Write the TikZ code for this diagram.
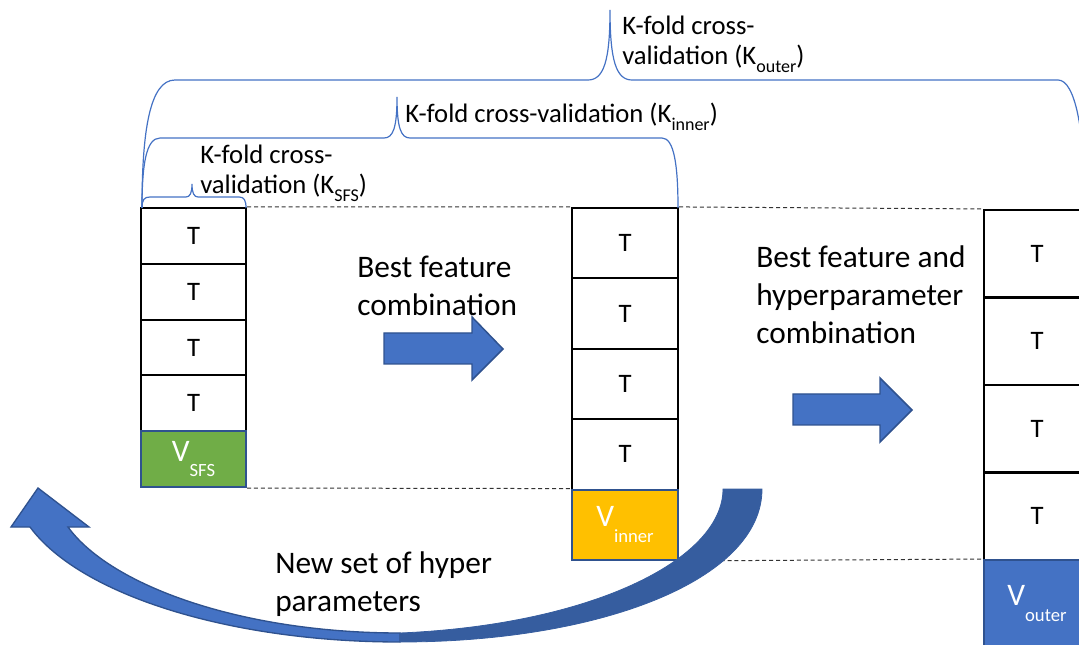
\documentclass[tikz,border=0pt]{standalone}
\usepackage{fontspec}
\setmainfont{Carlito}
\definecolor{bblue}{HTML}{4472C4}
\definecolor{bedge}{HTML}{2F528F}
\definecolor{bdark}{HTML}{365D9F}
\definecolor{vgreen}{HTML}{70AD47}
\definecolor{vyellow}{HTML}{FFC000}
\newcommand\ksub[1]{\raisebox{-0.3em}{\fontsize{13.5}{14}\selectfont #1}}
\newcommand\vsub[1]{\raisebox{-0.5em}{\fontsize{14}{15}\selectfont #1}}
\tikzset{
  lbl/.style={font=\fontsize{20}{22.5}\selectfont, align=left, inner sep=0pt},
  big/.style={font=\fontsize{23.5}{28.5}\selectfont, align=left, inner sep=0pt},
  tbox/.style={draw=black, line width=1.6pt, fill=white, inner sep=0pt, font=\fontsize{20}{22}\selectfont},
  vbox/.style={draw=bedge, line width=1.5pt, inner sep=0pt, text=white, font=\fontsize{23.5}{24}\selectfont},
  lstack/.style={minimum width=78.75pt, minimum height=41.85pt},
  mstack/.style={minimum width=79.5pt, minimum height=52.8pt},
  rstack/.style={minimum width=79.5pt, minimum height=65.6pt},
  guide/.style={draw=black!80, line width=0.75pt, dash pattern=on 3pt off 2.2pt},
  brace/.style={draw=bblue, line width=0.9pt},
  blockarrow/.style={fill=bblue, draw=bedge, line width=1.1pt, line join=miter},
}
\begin{document}
\begin{tikzpicture}[x=0.75pt, y=-0.75pt]
\useasboundingbox (0,0) rectangle (1079,645);
\clip (0,0) rectangle (1079,645);

% left stack
\node[tbox, lstack] (L1) at (193.5,235.9) {T};
\node[tbox, lstack] (L2) at (193.5,291.7) {T};
\node[tbox, lstack] (L3) at (193.5,347.5) {T};
\node[tbox, lstack] (L4) at (193.5,403.3) {T};
\node[vbox, lstack, fill=vgreen] (LV) at (193.5,459.1) {V\vsub{SFS}};

% middle stack
\node[tbox, mstack] (M1) at (625,243.2) {T};
\node[tbox, mstack] (M2) at (625,313.6) {T};
\node[tbox, mstack] (M3) at (625,384) {T};
\node[tbox, mstack] (M4) at (625,454.4) {T};
\node[vbox, mstack, fill=vyellow] (MV) at (625,524.8) {V\vsub{inner}};

% right stack
\node[tbox, rstack] (R1) at (1037,253.75) {T};
\node[tbox, rstack] (R2) at (1037,341.25) {T};
\node[tbox, rstack] (R3) at (1037,428.75) {T};
\node[tbox, rstack] (R4) at (1037,516.25) {T};
\node[vbox, rstack, fill=bblue] (RV) at (1037,603.75) {V\vsub{outer}};

% dashed guides
\draw[guide] (L1.north east) -- (M1.north west);
\draw[guide] (LV.south east) -- (MV.north west);
\draw[guide] (M1.north east) -- (R1.north west);
\draw[guide] (MV.south east) -- (RV.north west);

% braces
\draw[brace] (142,208) .. controls (142,200) and (144,197) .. (150,197) -- (186,197)
  .. controls (190,197) and (192,193) .. (192,184) .. controls (192,193) and (194,197) .. (198,197)
  -- (239,197) .. controls (244,197) and (246,200) .. (246,208);
\draw[brace] (142,208) .. controls (142,165) and (146,138) .. (160,138) -- (384,138)
  .. controls (393,138) and (397,128) .. (397,97) .. controls (397,128) and (401,138) .. (410,138)
  -- (662,138) .. controls (674,138) and (678,165) .. (678,208);
\draw[brace] (142,208) .. controls (142,130) and (150,80) .. (175,80) -- (588,80)
  .. controls (604,80) and (610,60) .. (610,10) .. controls (610,60) and (616,80) .. (632,80)
  -- (1058,80) .. controls (1075,80) and (1085,130) .. (1085,208);

% labels
\node[lbl, anchor=north west] (ksfs) at (200,145) {K-fold cross-\\validation (K\ksub{SFS})};
\node[lbl, anchor=north west] (kinner) at (405,103) {K-fold cross-validation (K\ksub{inner})};
\node[lbl, anchor=north west] (kouter) at (622,16) {K-fold cross-\\validation (K\ksub{outer})};
\node[big, anchor=north west] (bf1) at (357,256) {Best feature\\combination};
\node[big, anchor=north west] (bf2) at (756,245) {Best feature and\\hyperparameter\\combination};
\node[big, anchor=north west] (nh) at (275,551) {New set of hyper\\parameters};

% straight block arrows
\draw[blockarrow] (384,333) -- (472,333) -- (472,317) -- (503,349) -- (472,380) -- (472,364) -- (384,364) -- cycle;
\draw[blockarrow] (793,394) -- (880,394) -- (880,378) -- (912,410) -- (880,442) -- (880,425) -- (793,425) -- cycle;

% curved return arrow
\draw[fill=bblue, draw=bedge, line width=1pt, line join=miter]
  (400,642) .. controls (230,642) and (80,595) .. (30,527) -- (11,527) -- (38,488) -- (89,527) -- (68,527)
  .. controls (110,585) and (240,633) .. (400,633) -- cycle;
\draw[fill=bdark, draw=bdark, line width=0.6pt]
  (400,633) .. controls (590,625) and (723,560) .. (723,489) -- (762,489)
  .. controls (762,580) and (600,642) .. (400,642) -- cycle;
\end{tikzpicture}
\end{document}
